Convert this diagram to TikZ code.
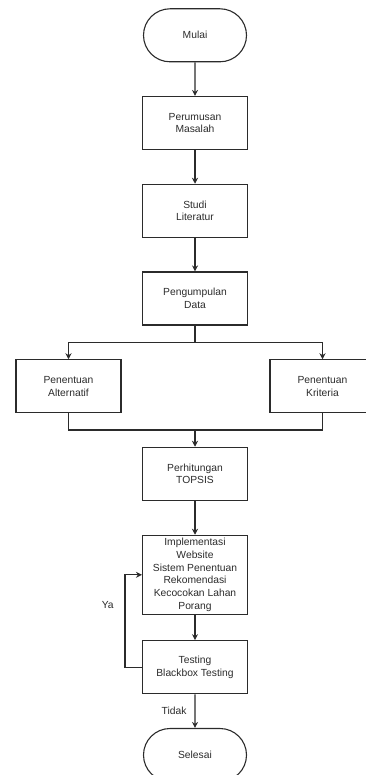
\documentclass[tikz,border=0pt]{standalone}
\usepackage{fontspec}
\setmainfont{Liberation Sans}
\usepackage{xcolor}
\usepackage{tikz}
\usetikzlibrary{shapes.misc,arrows.meta}

\definecolor{linegray}{HTML}{2B2B2B}

\begin{document}
\begin{tikzpicture}[x=1pt,y=-1pt]
    % Define styles
    \tikzset{
        terminal/.style={rounded rectangle, draw=linegray, line width=1.1pt, minimum width=105pt, minimum height=53pt, inner sep=1pt, text=linegray, font=\fontsize{10.3}{12.7}\selectfont},
        process/.style={rectangle, draw=linegray, line width=1.1pt, minimum width=105pt, minimum height=53pt, inner sep=1pt, align=center, text=linegray, font=\fontsize{10.3}{12.7}\selectfont},
        arrow/.style={-{Stealth[length=6pt,width=6pt]}, draw=linegray, line width=1.1pt},
        line/.style={draw=linegray, line width=1.1pt},
        label/.style={text=linegray, font=\fontsize{10.3}{12.7}\selectfont}
    }
    \useasboundingbox (0,0) rectangle (365,775);

    % Nodes
    \node[terminal] (mulai) at (195,35.3) {Mulai};
    \node[process] (perumusan) at (195,123) {Perumusan\\Masalah};
    \node[process] (studi) at (195,210.8) {Studi\\Literatur};
    \node[process] (pengumpulan) at (195,298.5) {Pengumpulan\\Data};
    \node[process] (alternatif) at (68.5,386.3) {Penentuan\\Alternatif};
    \node[process] (kriteria) at (322.5,386.3) {Penentuan\\Kriteria};
    \node[process] (perhitungan) at (195,473.8) {Perhitungan\\TOPSIS};
    \node[process, minimum height=79pt] (implementasi) at (195,574.8) {Implementasi\\Website\\Sistem Penentuan\\Rekomendasi\\Kecocokan Lahan\\Porang};
    \node[process] (testing) at (195,667.2) {Testing\\Blackbox Testing};
    \node[terminal] (selesai) at (195,755) {Selesai};

    \coordinate (split) at (195,342.3);
    \coordinate (merge) at (195,430);
    \coordinate (loop) at (125,667.2);

    % Arrows
    \draw[arrow] (mulai) -- (perumusan);
    \draw[arrow] (perumusan) -- (studi);
    \draw[arrow] (studi) -- (pengumpulan);
    \draw[line] (pengumpulan) -- (split);
    \draw[arrow] (split) -| (alternatif);
    \draw[arrow] (split) -| (kriteria);
    \draw[line] (alternatif) |- (merge);
    \draw[line] (kriteria) |- (merge);
    \draw[arrow] (merge) -- (perhitungan);
    \draw[arrow] (perhitungan) -- (implementasi);
    \draw[arrow] (implementasi) -- (testing);
    \draw[arrow] (testing.west) -- (loop) |- (implementasi.west);
    \draw[arrow] (testing) -- (selesai);

    % Labels
    \node[label] (ya) at (107.7,605.3) {Ya};
    \node[label] (tidak) at (174,710.7) {Tidak};
\end{tikzpicture}
\end{document}
